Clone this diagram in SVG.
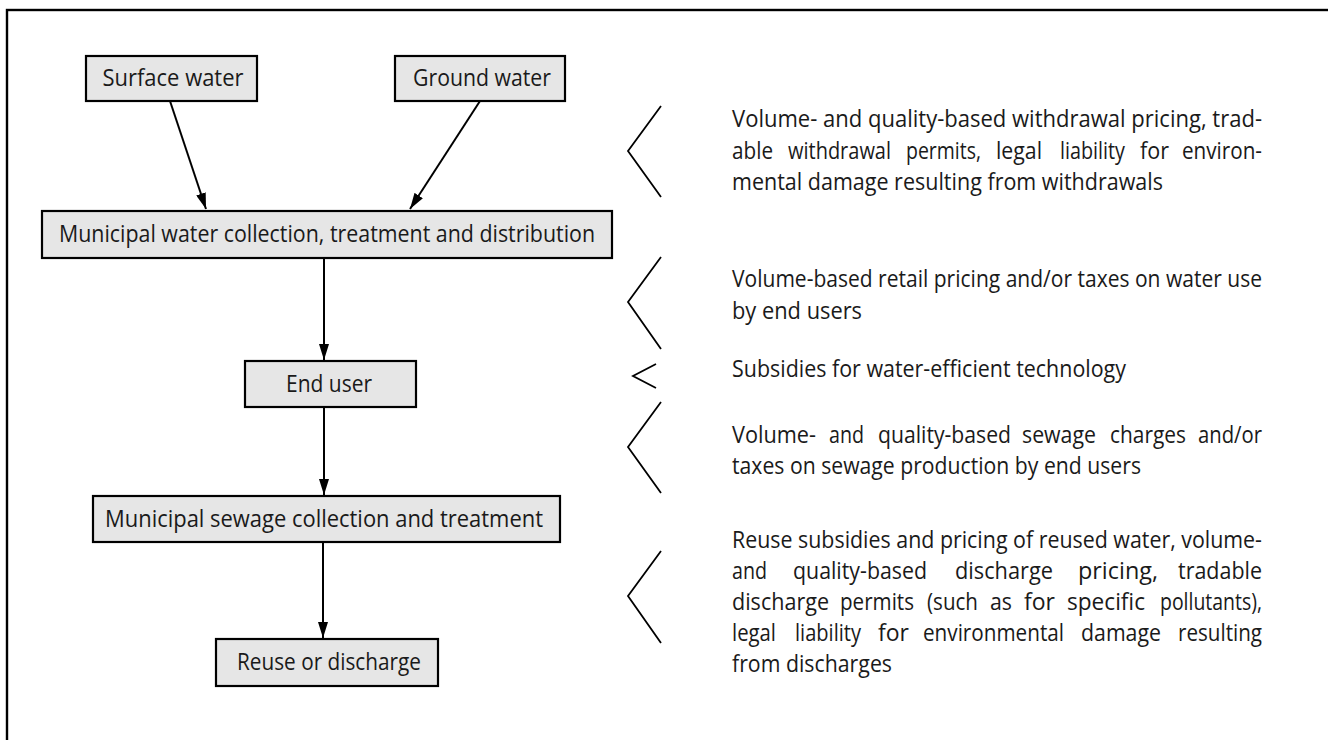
<svg xmlns="http://www.w3.org/2000/svg" width="1328" height="740" viewBox="0 0 1328 740">
<style>
.box{fill:#e6e6e6;stroke:#000;stroke-width:2.2}
.bt{font-family:"Open Sans","Liberation Sans",sans-serif;font-size:23px;fill:#1a1a1a;text-anchor:middle}
.pt{font-family:"Open Sans","Liberation Sans",sans-serif;font-size:23px;fill:#1a1a1a}
.con{stroke:#000;stroke-width:2;fill:none}
.br{stroke:#000;stroke-width:1.8;fill:none}
</style>
<defs>
<marker id="ah" markerUnits="userSpaceOnUse" markerWidth="16" markerHeight="10" refX="16" refY="5" orient="auto">
<path d="M0,0 L16,5 L0,10 Z" fill="#000"/>
</marker>
</defs>
<rect x="7" y="10" width="1330" height="740" fill="none" stroke="#000" stroke-width="2.4"/>

<g id="connectors">
<line class="con" x1="170" y1="101" x2="206" y2="209" marker-end="url(#ah)"/>
<line class="con" x1="480" y1="101" x2="410" y2="209" marker-end="url(#ah)"/>
<line class="con" x1="324" y1="258" x2="324" y2="360" marker-end="url(#ah)"/>
<line class="con" x1="324" y1="407" x2="324" y2="495" marker-end="url(#ah)"/>
<line class="con" x1="323" y1="542" x2="323" y2="638" marker-end="url(#ah)"/>
</g>

<g id="surface-water">
<rect class="box" x="86" y="56" width="171" height="45"/>
<text class="bt" x="173" y="86" textLength="141" lengthAdjust="spacingAndGlyphs">Surface water</text>
</g>
<g id="ground-water">
<rect class="box" x="395" y="56" width="170" height="45"/>
<text class="bt" x="482" y="86" textLength="138" lengthAdjust="spacingAndGlyphs">Ground water</text>
</g>
<g id="municipal-water">
<rect class="box" x="42" y="211" width="570" height="47"/>
<text class="bt" x="327" y="242" textLength="536" lengthAdjust="spacingAndGlyphs">Municipal water collection, treatment and distribution</text>
</g>
<g id="end-user">
<rect class="box" x="245" y="361" width="171" height="46"/>
<text class="bt" x="329" y="392" textLength="86" lengthAdjust="spacingAndGlyphs">End user</text>
</g>
<g id="municipal-sewage">
<rect class="box" x="93" y="496" width="467" height="46"/>
<text class="bt" x="324" y="527" textLength="438" lengthAdjust="spacingAndGlyphs">Municipal sewage collection and treatment</text>
</g>
<g id="reuse-discharge">
<rect class="box" x="216" y="639" width="222" height="47"/>
<text class="bt" x="329" y="670" textLength="184" lengthAdjust="spacingAndGlyphs">Reuse or discharge</text>
</g>

<g id="policy-withdrawal">
<polyline class="br" points="661,106 628,151 661,197"/>
<text class="pt" x="732" y="127" textLength="530" lengthAdjust="spacingAndGlyphs">Volume- and quality-based withdrawal pricing, trad-</text>
<text class="pt" x="732" y="158.5" textLength="41" lengthAdjust="spacingAndGlyphs">able</text>
<text class="pt" x="788" y="158.5" textLength="103" lengthAdjust="spacingAndGlyphs">withdrawal</text>
<text class="pt" x="906" y="158.5" textLength="75" lengthAdjust="spacingAndGlyphs">permits,</text>
<text class="pt" x="996" y="158.5" textLength="46" lengthAdjust="spacingAndGlyphs">legal</text>
<text class="pt" x="1060" y="158.5" textLength="65" lengthAdjust="spacingAndGlyphs">liability</text>
<text class="pt" x="1140" y="158.5" textLength="29" lengthAdjust="spacingAndGlyphs">for</text>
<text class="pt" x="1182" y="158.5" textLength="80" lengthAdjust="spacingAndGlyphs">environ-</text>
<text class="pt" x="732" y="190" textLength="431" lengthAdjust="spacingAndGlyphs">mental damage resulting from withdrawals</text>
</g>
<g id="policy-retail">
<polyline class="br" points="661,257 628,302 661,349"/>
<text class="pt" x="732" y="287" textLength="530" lengthAdjust="spacingAndGlyphs">Volume-based retail pricing and/or taxes on water use</text>
<text class="pt" x="732" y="318.5" textLength="130" lengthAdjust="spacingAndGlyphs">by end users</text>
</g>
<g id="policy-subsidies">
<polyline class="br" points="656,364 633,376 656,388"/>
<text class="pt" x="732" y="377" textLength="394" lengthAdjust="spacingAndGlyphs">Subsidies for water-efficient technology</text>
</g>
<g id="policy-sewage">
<polyline class="br" points="661,402 628,447 661,493"/>
<text class="pt" x="732" y="443" textLength="84" lengthAdjust="spacingAndGlyphs">Volume-</text>
<text class="pt" x="829" y="443" textLength="35" lengthAdjust="spacingAndGlyphs">and</text>
<text class="pt" x="878" y="443" textLength="133" lengthAdjust="spacingAndGlyphs">quality-based</text>
<text class="pt" x="1022" y="443" textLength="74" lengthAdjust="spacingAndGlyphs">sewage</text>
<text class="pt" x="1110" y="443" textLength="76" lengthAdjust="spacingAndGlyphs">charges</text>
<text class="pt" x="1198" y="443" textLength="64" lengthAdjust="spacingAndGlyphs">and/or</text>
<text class="pt" x="732" y="474" textLength="409" lengthAdjust="spacingAndGlyphs">taxes on sewage production by end users</text>
</g>
<g id="policy-discharge">
<polyline class="br" points="661,551 628,596 661,643"/>
<text class="pt" x="732" y="548" textLength="530" lengthAdjust="spacingAndGlyphs">Reuse subsidies and pricing of reused water, volume-</text>
<text class="pt" x="732" y="579" textLength="35" lengthAdjust="spacingAndGlyphs">and</text>
<text class="pt" x="793" y="579" textLength="134" lengthAdjust="spacingAndGlyphs">quality-based</text>
<text class="pt" x="955" y="579" textLength="98" lengthAdjust="spacingAndGlyphs">discharge</text>
<text class="pt" x="1078" y="579" textLength="80" lengthAdjust="spacingAndGlyphs">pricing,</text>
<text class="pt" x="1178" y="579" textLength="84" lengthAdjust="spacingAndGlyphs">tradable</text>
<text class="pt" x="732" y="610" textLength="97" lengthAdjust="spacingAndGlyphs">discharge</text>
<text class="pt" x="840" y="610" textLength="74" lengthAdjust="spacingAndGlyphs">permits</text>
<text class="pt" x="927" y="610" textLength="51" lengthAdjust="spacingAndGlyphs">(such</text>
<text class="pt" x="990" y="610" textLength="22" lengthAdjust="spacingAndGlyphs">as</text>
<text class="pt" x="1024" y="610" textLength="31" lengthAdjust="spacingAndGlyphs">for</text>
<text class="pt" x="1067" y="610" textLength="78" lengthAdjust="spacingAndGlyphs">specific</text>
<text class="pt" x="1160" y="610" textLength="102" lengthAdjust="spacingAndGlyphs">pollutants),</text>
<text class="pt" x="732" y="641" textLength="44" lengthAdjust="spacingAndGlyphs">legal</text>
<text class="pt" x="795" y="641" textLength="66" lengthAdjust="spacingAndGlyphs">liability</text>
<text class="pt" x="878" y="641" textLength="31" lengthAdjust="spacingAndGlyphs">for</text>
<text class="pt" x="923" y="641" textLength="141" lengthAdjust="spacingAndGlyphs">environmental</text>
<text class="pt" x="1081" y="641" textLength="80" lengthAdjust="spacingAndGlyphs">damage</text>
<text class="pt" x="1178" y="641" textLength="84" lengthAdjust="spacingAndGlyphs">resulting</text>
<text class="pt" x="732" y="672" textLength="160" lengthAdjust="spacingAndGlyphs">from discharges</text>
</g>
</svg>
